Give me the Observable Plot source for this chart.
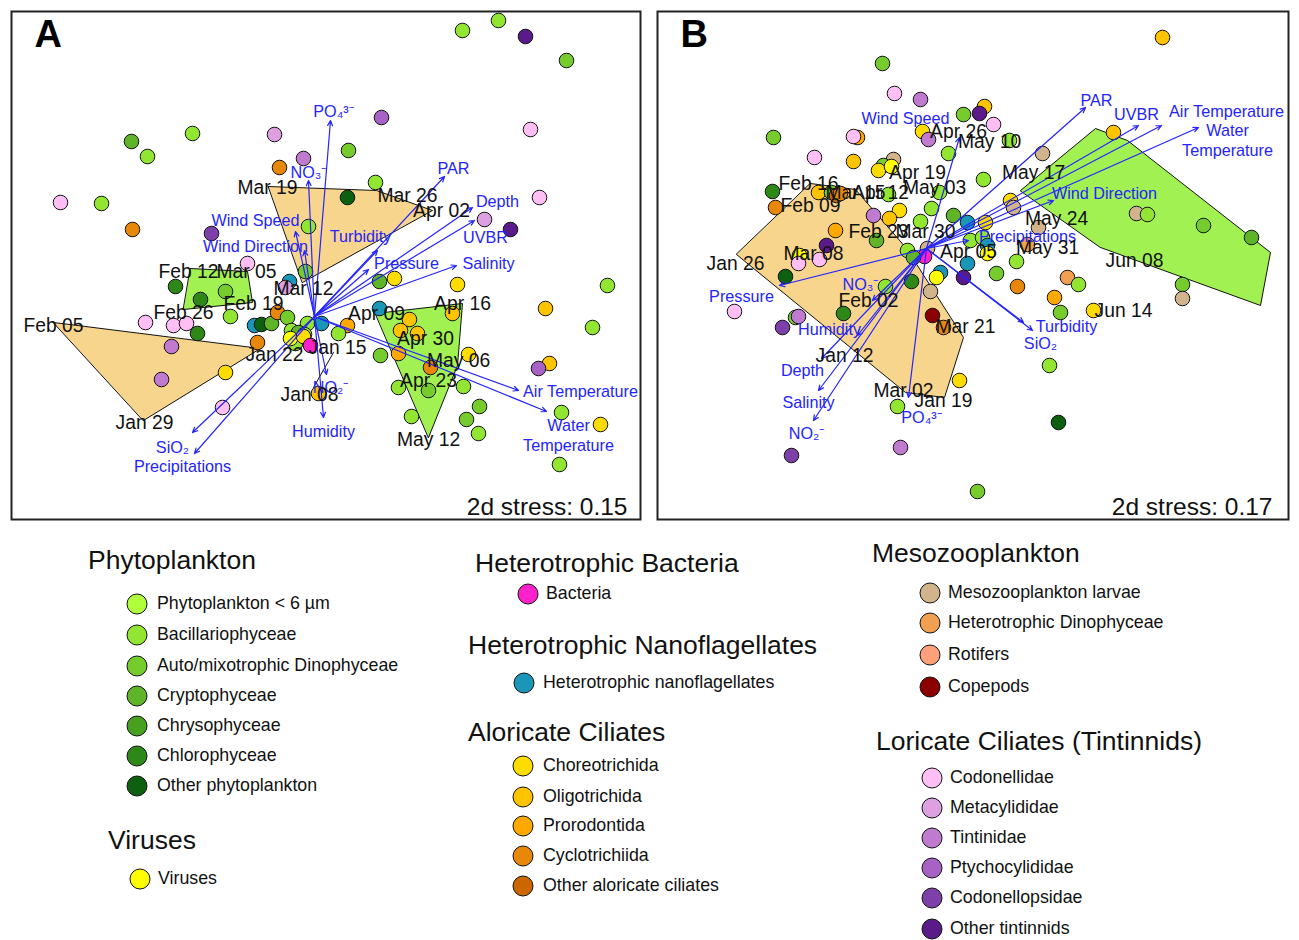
<!DOCTYPE html>
<html><head><meta charset="utf-8">
<script src="https://cdn.jsdelivr.net/npm/d3@7"></script>
<script src="https://cdn.jsdelivr.net/npm/@observablehq/plot@0.6"></script>
<style>
body{margin:0;background:#fff;font-family:"Liberation Sans",Arial,sans-serif;}
#root{position:relative;width:1299px;height:940px;overflow:hidden;}
.panel{position:absolute;}
.lh{position:absolute;font-size:26.5px;color:#111;white-space:nowrap;transform:translateY(-50%);line-height:1;}
.li{position:absolute;font-size:17.8px;color:#111;white-space:nowrap;transform:translateY(-50%);line-height:1;}
.lc{position:absolute;width:21px;height:21px;border-radius:50%;border:1.5px solid #111;box-sizing:border-box;transform:translate(-50%,-50%);}
</style></head><body><div id="root"></div>
<script>
// ---------------- DATA ----------------
const categoryCodes = ["P6","BAC","DIN","CRY","CHR","CHL","OPH","VIR","BACT","HNF","CHO","OLI","PRO","CYC","OAL","MEZ","HDIN","ROT","COP","CODN","META","TINT","PTY","CODP","OTIN"];
const categoryNames = ["Phytoplankton < 6 µm","Bacillariophyceae","Auto/mixotrophic Dinophyceae","Cryptophyceae","Chrysophyceae","Chlorophyceae","Other phytoplankton","Viruses","Bacteria","Heterotrophic nanoflagellates","Choreotrichida","Oligotrichida","Prorodontida","Cyclotrichiida","Other aloricate ciliates","Mesozooplankton larvae","Heterotrophic Dinophyceae","Rotifers","Copepods","Codonellidae","Metacylididae","Tintinidae","Ptychocylididae","Codonellopsidae","Other tintinnids"];
const categoryColors = ["#b0ff3c","#92e632","#76cc2c","#5fb428","#47a020","#2e8818","#0d600f","#ffff00","#ff22cc","#1a96b8","#ffdc00","#ffc400","#ffa800","#e8880a","#cc6600","#d2b48c","#f0a050","#ffa07a","#8b0000","#ffbff5","#dda0e0","#c07ad0","#a862c6","#7d40a8","#5a1a8a"];

const legendTitles = ["Phytoplankton","Viruses","Heterotrophic Bacteria","Heterotrophic Nanoflagellates","Aloricate Ciliates","Mesozooplankton","Loricate Ciliates (Tintinnids)"];
const legendMembers = [
  ["P6","BAC","DIN","CRY","CHR","CHL","OPH"],
  ["VIR"],
  ["BACT"],
  ["HNF"],
  ["CHO","OLI","PRO","CYC","OAL"],
  ["MEZ","HDIN","ROT","COP"],
  ["CODN","META","TINT","PTY","CODP","OTIN"]
];

// Panel A: sample scores (ordination space)
const pointsA = [
[131,141,"CRY"],[147,156,"BAC"],[192,133,"BAC"],[274,134,"META"],[303,158,"TINT"],[279,167,"CYC"],[60,202,"CODN"],[101,203,"BAC"],[132,229,"CYC"],[211,233,"CODP"],[308,226,"BAC"],[247,263,"CODN"],
[462,30,"BAC"],[498,20,"BAC"],[525,36,"OTIN"],[566,60,"DIN"],[381,117,"PTY"],[530,129,"CODN"],[348,150,"DIN"],[375,182,"BAC"],[347,197,"OPH"],[539,197,"CODN"],[484,219,"META"],[510,229,"OTIN"],
[175,286,"CHL"],[200,299,"CHL"],[225,291,"DIN"],[230,316,"BAC"],[145,322,"CODN"],[173,325,"CODN"],[186,323,"CODN"],[197,333,"CHL"],[171,346,"TINT"],[161,379,"TINT"],[225,372,"CHO"],[222,407,"CODN"],
[254,325,"HNF"],[261,324,"OPH"],[271,323,"CRY"],[277,312,"CYC"],[287,317,"DIN"],[289,281,"HNF"],[285,287,"META"],[305,271,"DIN"],[307,323,"BAC"],[321,323,"HNF"],[291,330,"BAC"],[298,332,"CRY"],[304,334,"BAC"],[295,343,"BAC"],[290,338,"VIR"],[303,336,"CHO"],[310,345,"BACT"],[257,342,"CYC"],[318,393,"OLI"],
[347,325,"PRO"],[338,333,"BAC"],[379,281,"CRY"],[394,278,"CHO"],[457,284,"CHO"],[379,308,"HNF"],[380,355,"DIN"],[398,353,"PRO"],[409,319,"OLI"],[452,313,"OLI"],[400,330,"OLI"],[417,333,"OLI"],[468,354,"CHO"],[430,367,"CYC"],[398,387,"BAC"],[428,390,"DIN"],[463,386,"BAC"],[479,406,"DIN"],[466,419,"DIN"],[411,416,"BAC"],[478,433,"BAC"],
[545,308,"OLI"],[607,285,"BAC"],[592,327,"BAC"],[549,363,"OLI"],[538,368,"PTY"],[561,412,"BAC"],[600,424,"CHO"],[559,464,"BAC"]
];
const hullsA = [
  {group:"early", pts:[[268,186],[376,190],[432,210],[302,282]]},
  {group:"late",  pts:[[190,268],[247,271],[252,302],[183,309]]},
  {group:"early", pts:[[53,322],[260,348],[143,420]]},
  {group:"late",  pts:[[375,313],[462,303],[457,365],[428,437]]}
];
const segmentsA = [[[313,387],[333,352]]];
const datesA = [
["Mar 19",267,187],["Mar 26",407,195],["Apr 02",441,210],["Mar 12",303,288],["Feb 12",188,271],["Mar 05",246,271],["Feb 19",253,303],["Feb 26",183,312],["Feb 05",53,325],["Jan 29",144,422],["Jan 22",274,354],["Jan 15",337,347],["Jan 08",309,394],
["Apr 09",376,313],["Apr 16",462,303],["Apr 30",425,338],["May 06",458,360],["Apr 23",428,380],["May 12",428,439]
];
const originA = [314,316];
const envA = [
["PO₄³⁻",330,120,333,110],["NO₃⁻",308,180,308,171],["PAR",444,176,453,167],["Depth",472,207,497,200],["UVBR",474,220,485,236],["Salinity",456,265,488,262],["Pressure",368,269,406,262],["Turbidity",377,250,360,235],["Wind Speed",295,231,255,219],["Wind Direction",304,250,255,245],["Air Temperature",518,390,580,390],["Water\nTemperature",546,411,568,434],["NO₂⁻",326,374,330,386],["Humidity",323,417,323,430],["SiO₂",192,432,172,446],["Precipitations",194,453,182,465]
];

// Panel B
const pointsB = [
[882,63,"DIN"],[894,93,"CODN"],[920,99,"TINT"],[773,137,"DIN"],[857,137,"PRO"],[853,136,"CODN"],[963,114,"DIN"],[984,106,"OLI"],[979,113,"OTIN"],[993,124,"CODN"],[922,131,"CHO"],[928,139,"TINT"],[948,153,"BAC"],[1009,140,"BAC"],[814,157,"CODN"],[853,161,"OLI"],[893,159,"MEZ"],[883,165,"DIN"],[878,170,"CHO"],[891,166,"VIR"],[983,179,"BAC"],[1042,153,"MEZ"],[1162,37,"OLI"],[1113,132,"OLI"],
[772,191,"CHL"],[775,207,"CYC"],[818,192,"OLI"],[831,192,"DIN"],[836,195,"OAL"],[840,193,"CYC"],[888,194,"BAC"],[939,192,"BAC"],[873,215,"TINT"],[899,210,"CHO"],[889,218,"OLI"],[931,208,"BAC"],[953,215,"CRY"],[920,221,"BAC"],[967,222,"HNF"],[1010,200,"CHO"],[1013,207,"MEZ"],[985,222,"CHO"],[1038,227,"MEZ"],[835,230,"PRO"],[876,240,"CRY"],[907,250,"BAC"],[927,248,"MEZ"],[924,256,"BACT"],[913,257,"CRY"],[970,240,"BAC"],[982,237,"BAC"],[987,245,"HNF"],[987,253,"VIR"],[967,263,"HNF"],[940,272,"HNF"],[936,277,"VIR"],[963,277,"OTIN"],[911,281,"CHL"],[885,286,"BAC"],[930,291,"MEZ"],[932,315,"COP"],[943,327,"CYC"],
[826,245,"OTIN"],[799,255,"VIR"],[798,263,"CODN"],[819,259,"CODN"],[785,276,"OPH"],[734,311,"CODN"],[795,317,"DIN"],[798,316,"TINT"],[782,327,"CODP"],[843,313,"CHL"],
[959,380,"CHO"],[897,406,"BAC"],[900,447,"TINT"],[791,455,"CODP"],[977,491,"DIN"],
[996,273,"DIN"],[1016,261,"BAC"],[1017,286,"CYC"],[1027,244,"HDIN"],[1054,297,"PRO"],[1060,312,"DIN"],[1067,277,"HDIN"],[1078,284,"BAC"],[1093,310,"CHO"],[1136,213,"MEZ"],[1147,214,"BAC"],[1203,225,"DIN"],[1251,237,"CRY"],[1182,284,"DIN"],[1182,298,"MEZ"],[1049,365,"BAC"],[1058,422,"OPH"]
];
const hullsB = [
  {group:"early", pts:[[810,183],[855,189],[906,248],[963,337],[944,397],[905,392],[736,254]]},
  {group:"late",  pts:[[1020,190],[1095,128],[1127,140],[1270,252],[1260,305],[1100,247]]}
];
const segmentsB = [];
const datesB = [
["Apr 26",958,131],["May 10",989,141],["Apr 19",917,172],["May 03",934,187],["Feb 16",808,183],["Mar 15",855,192],["Apr 12",880,192],["Feb 09",810,205],["Feb 23",878,231],["Mar 30",925,231],["Mar 08",813,253],["Jan 26",735,263],["Apr 05",968,251],
["May 17",1033,172],["May 24",1056,218],["May 31",1047,247],["Jun 08",1134,260],["Jun 14",1123,310],["Feb 02",868,300],["Mar 21",965,326],["Jan 12",844,355],["Mar 02",903,390],["Jan 19",943,400]
];
const originB = [926,248];
const envB = [
["Wind Speed",959,137,905,117],["PAR",1085,107,1096,99],["UVBR",1138,125,1136,113],["Air Temperature",1161,125,1226,110],["Water\nTemperature",1198,127,1227,139],["Wind Direction",1053,200,1104,192],["Precipitations",968,240,1027,235],["Pressure",779,285,741,295],["NO₃⁻",872,300,860,283],["Humidity",857,335,829,328],["Depth",821,358,802,369],["Salinity",818,390,808,401],["NO₂⁻",813,420,806,432],["PO₄³⁻",908,397,921,416],["Turbidity",1032,330,1066,325],["SiO₂",1023,322,1040,342]
];

const panels = [
  {letter:"A", stress:"2d stress: 0.15", points:pointsA, hulls:hullsA, segments:segmentsA, dates:datesA, origin:originA, env:envA},
  {letter:"B", stress:"2d stress: 0.17", points:pointsB, hulls:hullsB, segments:segmentsB, dates:datesB, origin:originB, env:envB}
];

// ---------------- LAYOUT / STYLE ----------------
const panelBoxes = [{left:10, top:10, width:631, height:510, sdx:-14}, {left:656, top:10, width:633, height:510, sdx:-17}];
const hullFill = {early:"#f8d58c", late:"#a2f152"};
const envColor = "#2424ff";
const FONT = "'Liberation Sans', Arial, sans-serif";

const root = document.getElementById("root");

panels.forEach((p, i) => {
  const b = panelBoxes[i];
  const marks = [];
  p.hulls.forEach(h => {
    marks.push(Plot.line(h.pts, {x: d => d[0], y: d => d[1], curve: "linear-closed", fill: hullFill[h.group], stroke: "#111", strokeWidth: 1}));
  });
  p.segments.forEach(s => marks.push(Plot.line(s, {x: d => d[0], y: d => d[1], stroke: "#111", strokeWidth: 1})));
  marks.push(Plot.dot(p.points, {x: d => d[0], y: d => d[1], r: 7.3, fill: d => d[2], stroke: "#111", strokeWidth: 1}));
  marks.push(Plot.arrow(p.env, {x1: () => p.origin[0], y1: () => p.origin[1], x2: d => d[1], y2: d => d[2], stroke: envColor, strokeWidth: 1.2, headLength: 7, headAngle: 50}));
  marks.push(Plot.text(p.env, {x: d => d[3], y: d => d[4], text: d => d[0], fill: envColor, fontSize: 16.2, lineHeight: 1.25, fontFamily: FONT}));
  marks.push(Plot.text(p.dates, {x: d => d[1], y: d => d[2], text: d => d[0], fill: "#111", fontSize: 19.3, fontFamily: FONT}));
  marks.push(Plot.text([p.letter], {frameAnchor: "top-left", dx: 24, dy: 10, text: d => d, fontSize: 38, fontWeight: "bold", fill: "#000", lineAnchor: "top", fontFamily: FONT}));
  marks.push(Plot.text([p.stress], {frameAnchor: "bottom-right", dx: b.sdx, dy: -6, text: d => d, fontSize: 24.5, fill: "#111", lineAnchor: "bottom", textAnchor: "end", fontFamily: FONT}));
  marks.push(Plot.frame({stroke: "#222", strokeWidth: 2, inset: 1}));

  const svg = Plot.plot({
    width: b.width, height: b.height, margin: 0,
    x: {domain: [b.left, b.left + b.width], range: [0, b.width], axis: null},
    y: {domain: [b.top, b.top + b.height], range: [0, b.height], axis: null},
    color: {domain: categoryCodes, range: categoryColors},
    style: {fontFamily: FONT, background: "white", overflow: "visible"},
    marks
  });
  const wrap = document.createElement("div");
  wrap.className = "panel";
  wrap.style.left = b.left + "px";
  wrap.style.top = b.top + "px";
  wrap.appendChild(svg);
  root.appendChild(wrap);
});

// ---------------- LEGEND ----------------
const legendLayout = [
  {hx:88,  hy:560, cx:137, tx:157, ys:[604,635,666,696,726,756,786]},
  {hx:108, hy:840, cx:140, tx:158, ys:[879]},
  {hx:475, hy:563, cx:528, tx:546, ys:[594]},
  {hx:468, hy:645, cx:524, tx:543, ys:[683]},
  {hx:468, hy:732, cx:523, tx:543, ys:[766,797,826,856,886]},
  {hx:872, hy:553, cx:930, tx:948, ys:[593,623,655,687]},
  {hx:876, hy:741, cx:932, tx:950, ys:[778,808,838,868,898,929]}
];
legendTitles.forEach((t, gi) => {
  const L = legendLayout[gi];
  const h = document.createElement("div");
  h.className = "lh"; h.textContent = t;
  h.style.left = L.hx + "px"; h.style.top = L.hy + "px";
  root.appendChild(h);
  legendMembers[gi].forEach((code, k) => {
    const idx = categoryCodes.indexOf(code);
    const c = document.createElement("div");
    c.className = "lc";
    c.style.left = L.cx + "px"; c.style.top = L.ys[k] + "px";
    c.style.background = categoryColors[idx];
    root.appendChild(c);
    const s = document.createElement("div");
    s.className = "li"; s.textContent = categoryNames[idx];
    s.style.left = L.tx + "px"; s.style.top = L.ys[k] + "px";
    root.appendChild(s);
  });
});
</script></body></html>
